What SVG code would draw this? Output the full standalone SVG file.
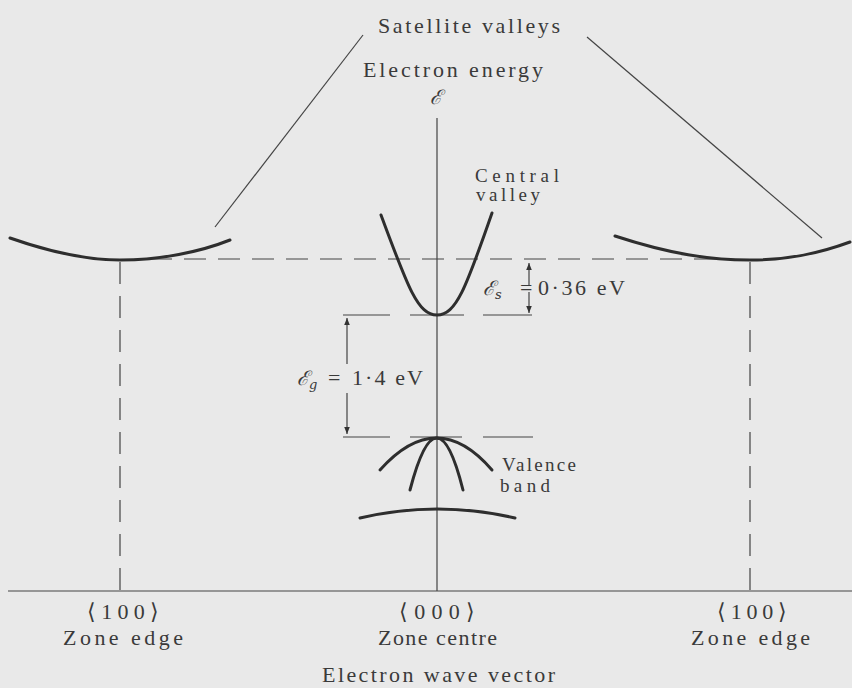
<svg xmlns="http://www.w3.org/2000/svg" width="852" height="688" viewBox="0 0 852 688">
<style>
text{font-family:"Liberation Serif","Times New Roman",Times,serif}
.t{font-size:22px;fill:#3a3a3a}
.n{font-size:19px;fill:#3a3a3a}
.s{font-family:"DejaVu Serif","Liberation Serif",serif;font-style:italic;font-size:20px;fill:#3a3a3a}
.c{fill:none;stroke:#2e2e2e;stroke-width:3;stroke-linecap:round}
.thin{fill:none;stroke:#444;stroke-width:1.2}
.dash{fill:none;stroke:#444;stroke-width:1.2;stroke-dasharray:22 12}
</style>
<defs>
<marker id="ah" viewBox="0 0 10 10" refX="10" refY="5" markerWidth="7" markerHeight="9" orient="auto" markerUnits="userSpaceOnUse">
<path d="M0,1 L10,5 L0,9 Z" fill="#333"/>
</marker>
</defs>
<rect width="852" height="688" fill="#e9e9e9"/>
<g id="connectors">
<line class="thin" x1="437" y1="118" x2="437" y2="591"/>
<line class="thin" x1="8" y1="591" x2="852" y2="591"/>
<line class="dash" x1="150" y1="259" x2="718" y2="259"/>
<line class="dash" x1="120" y1="262" x2="120" y2="591"/>
<line class="dash" x1="750" y1="262" x2="750" y2="591"/>
<line class="thin" x1="343" y1="315" x2="390" y2="315"/>
<line class="thin" x1="410" y1="315" x2="464" y2="315"/>
<line class="thin" x1="483" y1="315" x2="532" y2="315"/>
<line class="thin" x1="343" y1="437" x2="390" y2="437"/>
<line class="thin" x1="410" y1="437" x2="462" y2="437"/>
<line class="thin" x1="483" y1="437" x2="533" y2="437"/>
<line class="thin" x1="347" y1="364" x2="347" y2="318" marker-end="url(#ah)"/>
<line class="thin" x1="347" y1="393" x2="347" y2="434" marker-end="url(#ah)"/>
<line class="thin" x1="529" y1="285" x2="529" y2="263" marker-end="url(#ah)"/>
<line class="thin" x1="529" y1="292" x2="529" y2="313" marker-end="url(#ah)"/>
<line class="thin" x1="363" y1="35" x2="215" y2="227"/>
<line class="thin" x1="587" y1="37" x2="822" y2="238"/>
</g>
<g id="satellite-left"><path class="c" d="M10,238 C50,252 88,260 120,260 C160,260 200,252 230,240"/></g>
<g id="satellite-right"><path class="c" d="M615,236 C670,254 710,260 750,260 C790,260 820,253 850,242"/></g>
<g id="central-valley"><path class="c" d="M381,215 C408,288 418,315 437,315 C456,315 466,288 492,213"/></g>
<g id="valence-band">
<path class="c" d="M380,470 Q437,406 492,470"/>
<path class="c" d="M410,490 Q437,386 463,490"/>
<path class="c" d="M360,518 Q437,500 515,518"/>
</g>
<g id="labels">
<text class="t" x="378" y="33" textLength="182" lengthAdjust="spacing">Satellite valleys</text>
<text class="t" x="363" y="77" textLength="180" lengthAdjust="spacing">Electron energy</text>
<text class="s" x="430" y="104">ℰ</text>
<text class="n" x="475" y="182" textLength="84" lengthAdjust="spacing">Central</text>
<text class="n" x="476" y="201" textLength="64" lengthAdjust="spacing">valley</text>
<text class="s" x="483" y="295">ℰ<tspan font-size="13" dy="4">s</tspan></text>
<text class="t" x="520" y="295">=</text>
<text class="t" x="538" y="295" textLength="87" lengthAdjust="spacing">0·36 eV</text>
<text class="s" x="297" y="385">ℰ<tspan font-size="13" dy="4">g</tspan></text>
<text class="t" x="328" y="385">=</text>
<text class="t" x="352" y="385" textLength="71" lengthAdjust="spacing">1·4 eV</text>
<text class="n" x="502" y="471" textLength="74" lengthAdjust="spacing">Valence</text>
<text class="n" x="500" y="492" textLength="50" lengthAdjust="spacing">band</text>
<text class="t" x="87" y="619" textLength="72" lengthAdjust="spacing">⟨100⟩</text>
<text class="t" x="63" y="645" textLength="120" lengthAdjust="spacing">Zone edge</text>
<text class="t" x="399" y="619" textLength="76" lengthAdjust="spacing">⟨000⟩</text>
<text class="t" x="378" y="645" textLength="119" lengthAdjust="spacing">Zone centre</text>
<text class="t" x="717" y="619" textLength="70" lengthAdjust="spacing">⟨100⟩</text>
<text class="t" x="691" y="645" textLength="119" lengthAdjust="spacing">Zone edge</text>
<text class="t" x="322" y="682" textLength="233" lengthAdjust="spacing">Electron wave vector</text>
</g>
</svg>
